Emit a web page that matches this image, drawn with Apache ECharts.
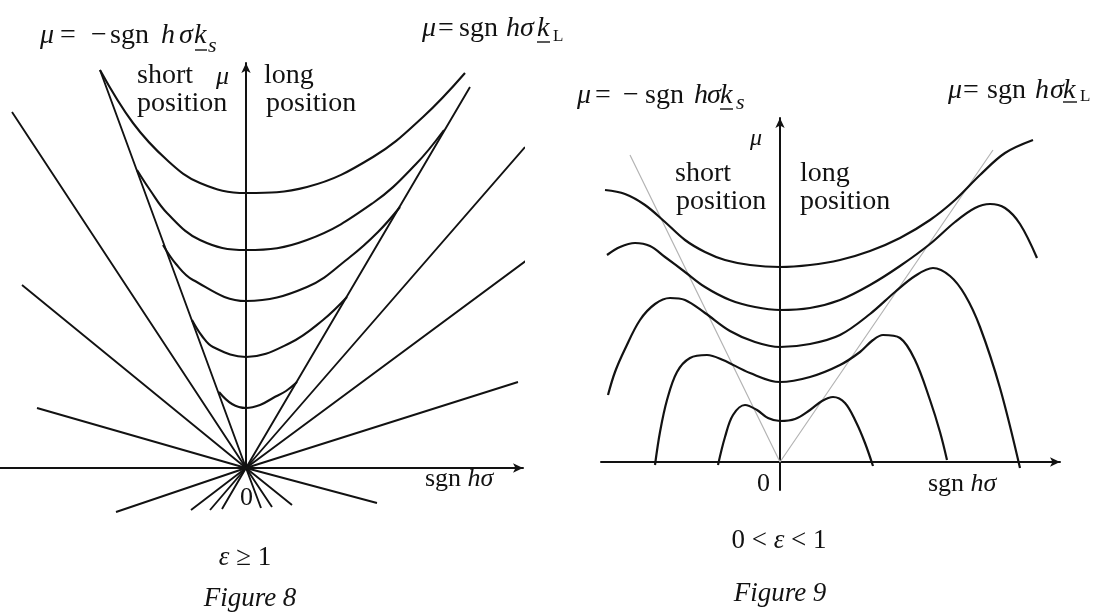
<!DOCTYPE html>
<html>
<head>
<meta charset="utf-8">
<script src="https://cdn.jsdelivr.net/npm/echarts@6/dist/echarts.min.js"></script>
<style>
  html, body { margin: 0; padding: 0; background: #ffffff; }
  #chart { width: 1099px; height: 615px; }
</style>
</head>
<body>
<div id="chart"></div>
<script>
// ---------- Figure 8 (ε ≥ 1): coordinates are (sgn hσ, μ) ----------
// straight lines through the origin: [upper end, origin, lower end]
const fig8LineKs = [[-1.46, 3.98], [0, 0], [0.15, -0.40]];   // μ = −sgn h σ k_s
const fig8LineKL = [[2.24, 3.81], [0, 0], [-0.24, -0.41]];   // μ =  sgn h σ k_L
const fig8RayA = [[-2.34, 3.56], [0, 0], [0.26, -0.39]];
const fig8RayB = [[-2.24, 1.83], [0, 0], [0.46, -0.37]];
const fig8RayC = [[-2.09, 0.60], [0, 0], [1.31, -0.35]];
const fig8RayD = [[2.79, 3.21], [0, 0], [-0.36, -0.42]];
const fig8RayE = [[2.81, 2.08], [0, 0], [-0.55, -0.42]];
const fig8RayF = [[2.72, 0.86], [0, 0], [-1.30, -0.44]];

// indifference curves, top to bottom; each ends where it meets the bounding lines
const fig8Curve1 = [[-1.46, 3.98], [-1.13, 3.45], [-0.79, 3.08], [-0.46, 2.85], [0, 2.75], [0.61, 2.81], [1.27, 3.11], [1.77, 3.51], [2.19, 3.95]];
const fig8Curve2 = [[-1.09, 2.98], [-0.96, 2.78], [-0.79, 2.55], [-0.46, 2.28], [0, 2.18], [0.61, 2.28], [1.27, 2.65], [1.70, 3.04], [1.98, 3.38]];
const fig8Curve3 = [[-0.83, 2.23], [-0.70, 2.04], [-0.53, 1.88], [0, 1.67], [0.61, 1.81], [1.04, 2.11], [1.32, 2.36], [1.54, 2.61]];
const fig8Curve4 = [[-0.54, 1.48], [-0.44, 1.32], [-0.33, 1.21], [0, 1.11], [0.44, 1.25], [0.77, 1.48], [1.01, 1.71]];
const fig8Curve5 = [[-0.27, 0.76], [-0.14, 0.64], [0, 0.60], [0.14, 0.63], [0.27, 0.70], [0.40, 0.77], [0.51, 0.86]];

// ---------- Figure 9 (0 < ε < 1) ----------
const fig9Guide = [[-1.50, 3.07], [0, 0], [2.13, 3.12]];     // the two bounding lines k_s, k_L
const fig9Curve1 = [[-1.75, 2.72], [-1.55, 2.68], [-1.35, 2.57], [-1.15, 2.40], [-0.95, 2.22], [-0.75, 2.10], [-0.55, 2.02], [-0.30, 1.97], [0, 1.95], [0.30, 1.97], [0.60, 2.02], [0.90, 2.11], [1.20, 2.24], [1.50, 2.42], [1.75, 2.62], [2.00, 2.87], [2.25, 3.09], [2.53, 3.22]];
const fig9Curve2 = [[-1.73, 2.07], [-1.60, 2.15], [-1.45, 2.19], [-1.30, 2.16], [-1.15, 2.05], [-0.95, 1.90], [-0.75, 1.75], [-0.50, 1.62], [-0.25, 1.55], [0, 1.52], [0.30, 1.54], [0.60, 1.62], [0.90, 1.77], [1.20, 1.96], [1.50, 2.18], [1.75, 2.40], [1.95, 2.54], [2.10, 2.58], [2.25, 2.54], [2.40, 2.38], [2.57, 2.04]];
const fig9Curve3 = [[-1.72, 0.67], [-1.65, 0.90], [-1.55, 1.13], [-1.40, 1.42], [-1.25, 1.58], [-1.10, 1.64], [-0.95, 1.62], [-0.75, 1.49], [-0.50, 1.31], [-0.25, 1.20], [0, 1.15], [0.30, 1.18], [0.60, 1.27], [0.90, 1.48], [1.15, 1.70], [1.35, 1.86], [1.53, 1.94], [1.70, 1.86], [1.85, 1.67], [2.00, 1.35], [2.20, 0.74], [2.40, -0.06]];
const fig9Curve4 = [[-1.25, -0.03], [-1.20, 0.30], [-1.13, 0.62], [-1.03, 0.90], [-0.90, 1.04], [-0.73, 1.07], [-0.57, 1.02], [-0.30, 0.89], [0, 0.80], [0.30, 0.85], [0.60, 0.97], [0.80, 1.10], [0.93, 1.22], [1.03, 1.27], [1.20, 1.24], [1.35, 1.02], [1.50, 0.62], [1.60, 0.30], [1.67, 0.02]];
const fig9Curve5 = [[-0.62, -0.03], [-0.55, 0.25], [-0.47, 0.47], [-0.35, 0.57], [-0.23, 0.52], [-0.12, 0.44], [0, 0.41], [0.15, 0.43], [0.30, 0.52], [0.42, 0.61], [0.53, 0.65], [0.65, 0.59], [0.76, 0.40], [0.85, 0.19], [0.93, -0.04]];

// axis ranges of the two panels
const fig8XRange = [-2.46, 2.77];
const fig8YRange = [0, 4.05];
const fig9XRange = [-1.79, 2.80];
const fig9YRange = [-0.28, 3.44];

const FONT = 'Liberation Serif';
const INK = '#121212';

function axisPair(gridIndex, xr, yr) {
  const common = {
    gridIndex: gridIndex,
    type: 'value',
    axisTick: { show: false },
    axisLabel: { show: false },
    splitLine: { show: false },
    axisLine: {
      show: true,
      onZero: true,
      symbol: ['none', 'arrow'],
      symbolSize: [7, 10],
      lineStyle: { color: INK, width: 2 }
    }
  };
  return {
    x: Object.assign({}, common, { min: xr[0], max: xr[1] }),
    y: Object.assign({}, common, { min: yr[0], max: yr[1] })
  };
}

function stroke(data, gridIndex, opts) {
  opts = opts || {};
  return {
    type: 'line',
    xAxisIndex: gridIndex,
    yAxisIndex: gridIndex,
    data: data,
    symbol: 'none',
    showSymbol: false,
    smooth: opts.smooth || false,
    clip: false,
    silent: true,
    lineStyle: { color: opts.color || INK, width: opts.width || 1.8 },
    z: opts.z || 2
  };
}

function word(x, y, s, o) {
  o = o || {};
  return {
    type: 'text', x: x, y: y, silent: true,
    style: {
      text: s,
      fontFamily: FONT,
      fontSize: o.size || 28,
      fontStyle: o.italic ? 'italic' : 'normal',
      fill: INK,
      align: o.align || 'left',
      verticalAlign: 'middle',
      rich: o.rich
    }
  };
}

// formula built from separately placed glyph groups: [left x, text, italic]
function formula(tokens, y, sub, underline) {
  const out = tokens.map(t => word(t[0], y, t[1], { italic: t[2], size: 28 }));
  out.push(word(sub.x, sub.y, sub.text, { italic: sub.italic, size: sub.size }));
  out.push({
    type: 'line', silent: true,
    shape: { x1: underline[0], y1: underline[2], x2: underline[1], y2: underline[2] },
    style: { stroke: INK, lineWidth: 1.4 }
  });
  return out;
}

const ax8 = axisPair(0, fig8XRange, fig8YRange);
const ax9 = axisPair(1, fig9XRange, fig9YRange);

const fig8Straight = [fig8LineKs, fig8LineKL, fig8RayA, fig8RayB, fig8RayC, fig8RayD, fig8RayE, fig8RayF];
const fig8Curves = [fig8Curve1, fig8Curve2, fig8Curve3, fig8Curve4, fig8Curve5];
const fig9Curves = [fig9Curve1, fig9Curve2, fig9Curve3, fig9Curve4, fig9Curve5];

const series = []
  .concat(fig8Straight.map(d => stroke(d, 0, { width: 1.9 })))
  .concat(fig8Curves.map(d => stroke(d, 0, { smooth: 0.4, width: 2.1 })))
  .concat([stroke(fig9Guide, 1, { color: '#b4b4b4', width: 1.2, z: 1 })])
  .concat(fig9Curves.map(d => stroke(d, 1, { smooth: 0.35, width: 2.2 })));

const italicRich = { i: { fontStyle: 'italic', fontFamily: FONT, fontSize: 27, fill: INK } };
const axisNameRich = {
  r: { fontFamily: FONT, fontSize: 26, fill: INK },
  i: { fontFamily: FONT, fontSize: 26, fontStyle: 'italic', fill: INK }
};

const graphics = []
  // Figure 8 formulas
  .concat(formula([[40, 'μ', true], [60, '=', false], [91, '−', false], [110, 'sgn', false], [161, 'h', true], [179, 'σ', true], [194, 'k', true]], 36,
    { x: 208, y: 46, text: 's', italic: true, size: 22 }, [195, 207, 50]))
  .concat(formula([[422, 'μ', true], [438, '=', false], [459, 'sgn', false], [506, 'h', true], [520, 'σ', true], [537, 'k', true]], 29,
    { x: 553, y: 37, text: 'L', italic: false, size: 17 }, [537, 550, 42]))
  // Figure 9 formulas
  .concat(formula([[577, 'μ', true], [595, '=', false], [623, '−', false], [645, 'sgn', false], [694, 'h', true], [707, 'σ', true], [720, 'k', true]], 96,
    { x: 736, y: 103, text: 's', italic: true, size: 22 }, [720, 733, 109]))
  .concat(formula([[948, 'μ', true], [963, '=', false], [987, 'sgn', false], [1035, 'h', true], [1050, 'σ', true], [1063, 'k', true]], 91,
    { x: 1080, y: 97, text: 'L', italic: false, size: 17 }, [1063, 1077, 102]))
  .concat([
    // Figure 8 region labels and axis names
    word(137, 76, 'short'), word(137, 104, 'position'),
    word(216, 77, 'μ', { italic: true, size: 26 }),
    word(264, 76, 'long'), word(266, 104, 'position'),
    word(240, 498, '0', { size: 26 }),
    word(425, 479, '{r|sgn }{i|hσ}', { size: 26, rich: axisNameRich }),
    word(245, 558, '{i|ε} ≥ 1', { size: 27, align: 'center', rich: italicRich }),
    word(250, 599, 'Figure 8', { italic: true, size: 27, align: 'center' }),
    // Figure 9 region labels and axis names
    word(750, 139, 'μ', { italic: true, size: 24 }),
    word(675, 174, 'short'), word(676, 202, 'position'),
    word(800, 174, 'long'), word(800, 202, 'position'),
    word(757, 484, '0', { size: 26 }),
    word(928, 484, '{r|sgn }{i|hσ}', { size: 26, rich: axisNameRich }),
    word(779, 541, '0 < {i|ε} < 1', { size: 27, align: 'center', rich: italicRich }),
    word(780, 594, 'Figure 9', { italic: true, size: 27, align: 'center' })
  ]);

const chart = echarts.init(document.getElementById('chart'), null, { renderer: 'canvas' });
chart.setOption({
  animation: false,
  backgroundColor: '#ffffff',
  grid: [
    { left: 0, top: 63, width: 523, height: 405, containLabel: false },
    { left: 601, top: 118, width: 459, height: 372, containLabel: false }
  ],
  xAxis: [ax8.x, ax9.x],
  yAxis: [ax8.y, ax9.y],
  series: series,
  graphic: graphics
});
</script>
</body>
</html>
